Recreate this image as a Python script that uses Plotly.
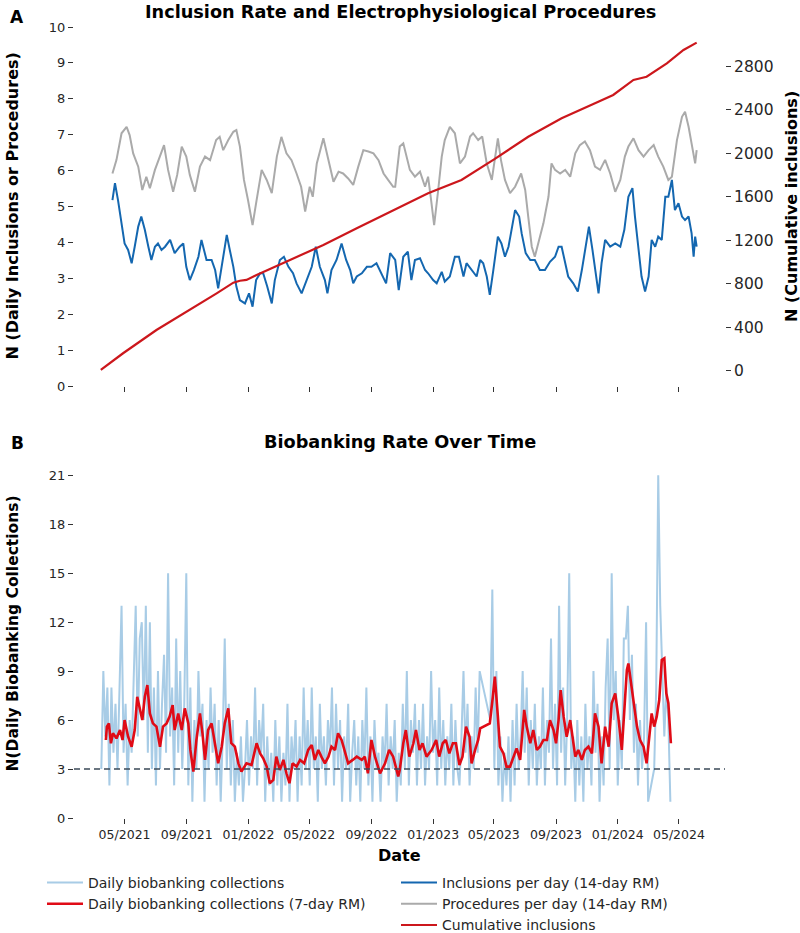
import pandas as pd
import plotly.graph_objects as go

START = pd.Timestamp("2021-03-15")

# ---------------- Panel A data ----------------
proc_day = [23,31,41,51,57,64,74,82,90,97,107,117,125,133,143,151,160,169,176,186,
            196,206,216,228,235,242,252,262,268,275,283,291,300,308,318,328,338,348,357,367,
            377,387,396,404,413,419,427,440,450,460,470,479,489,499,509,519,529,539,549,559,
            568,578,
            582,591,598,605,611,621,631,641,647,653,659,667,674,680,690,700,710,720,730,736,
            746,754,763,773,779,785,791,799,809,819,831,839,845,852,858,865,875,885,891,898,
            908,918,928,938,947,957,967,977,987,997,1007,1017,1027,1036,1043,1053,1063,1073,1083,1093,
            1102,1112,1122,1129,1139,1149,1155,1162,1168,1175,1178]
proc_val = [5.92,6.30,7.04,7.22,6.99,6.48,6.11,5.46,5.83,5.51,6.02,6.39,6.71,6.02,5.41,5.88,6.67,6.39,5.88,5.41,
            6.11,6.39,6.29,6.85,6.94,6.57,6.85,7.08,7.13,6.67,5.74,5.18,4.48,5.18,6.02,5.74,5.37,6.39,6.94,6.48,
            6.29,5.92,5.55,4.86,5.55,5.27,6.20,6.90,6.29,5.69,5.97,5.92,5.78,5.60,6.11,6.57,6.53,6.48,6.29,5.92,
            5.74,5.55,
            5.55,6.67,6.76,6.39,6.02,5.83,5.97,5.55,5.83,5.18,4.48,5.46,6.39,6.85,7.22,7.04,6.20,6.39,6.95,7.04,
            6.85,6.95,6.20,5.74,6.30,6.90,6.30,5.74,5.37,5.55,5.92,5.46,4.72,3.88,3.60,3.97,4.53,5.27,6.20,6.02,
            5.92,6.02,5.83,6.48,6.71,6.81,6.57,6.11,6.02,6.30,5.92,5.41,5.74,6.39,6.67,6.90,6.57,6.39,6.57,6.71,
            6.39,6.11,5.74,5.83,6.85,7.50,7.64,7.22,6.76,6.20,6.57]

incl_day = [23,28,34,41,47,54,61,67,74,80,87,94,100,107,113,120,127,137,146,156,
            163,169,176,184,193,199,209,219,226,232,239,249,255,262,268,275,285,293,300,307,
            315,321,329,338,344,354,362,371,380,387,397,407,417,425,433,443,448,456,466,476,
            485,493,499,506,516,526,535,545,555,564,572,
            582,589,598,607,614,621,631,641,647,657,664,674,680,690,700,708,717,723,733,743,
            750,756,763,769,776,785,792,799,806,814,819,827,832,840,849,858,868,878,888,898,
            905,911,918,924,934,943,951,959,965,972,977,984,990,997,1007,1017,1027,1035,1043,1051,
            1056,1063,1069,1076,1083,1089,1096,1102,1109,1116,1122,1129,1135,1142,1149,1155,1162,1168,1172,1175,
            1178]
incl_val = [5.18,5.65,5.18,4.53,3.97,3.79,3.42,3.88,4.44,4.72,4.35,3.88,3.51,3.88,3.97,3.79,3.88,4.07,3.70,3.88,
            3.97,3.32,2.95,3.23,3.60,4.07,3.51,3.51,3.23,2.72,3.32,4.21,3.79,3.32,2.77,2.39,2.30,2.58,2.21,2.95,
            3.14,3.14,2.77,2.30,2.95,3.51,3.60,3.32,3.14,2.86,2.58,2.95,3.32,3.88,3.32,2.95,2.58,3.23,3.51,3.97,
            3.51,3.23,2.86,3.05,3.14,3.32,3.32,3.42,3.14,2.86,3.70,
            3.51,2.67,3.60,3.74,2.95,3.51,3.56,3.23,3.14,2.95,2.86,3.18,2.91,3.05,3.60,3.60,3.05,3.42,3.23,3.05,
            3.51,3.42,3.05,2.54,3.23,4.16,3.97,3.60,3.88,4.53,4.90,4.72,4.25,3.70,3.51,3.51,3.23,3.23,3.46,3.60,
            3.88,3.88,3.42,3.05,2.86,2.63,3.23,3.97,4.44,3.79,3.23,2.58,3.42,4.07,3.88,3.97,3.88,4.35,5.27,5.51,
            4.72,3.79,3.05,2.63,3.05,4.07,3.88,4.16,4.07,5.27,5.27,5.74,4.90,5.09,4.72,4.62,4.72,4.25,3.60,4.16,
            3.88]

cum_day = [0,44,110,176,229,262,275,288,308,374,440,506,581,647,713,779,845,911,977,1013,1053,1079,1119,1152,1178]
cum_val = [10,163,377,561,714,812,830,837,883,1021,1159,1312,1481,1634,1756,1950,2154,2324,2462,2538,2676,2706,2829,2952,3019]

# ---------------- Panel B data ----------------
bio_day = list(range(1, 750, 4)) + list(range(770, 1084, 4)) + list(range(1094, 1128, 4))
bio_val = [3,9,5,8,2,8,4,7,3,8,13,4,7,2,6,4,9,13,5,11,12,6,13,4,12,3,8,2,9,3,
           7,10,4,15,5,8,2,11,4,9,3,7,15,2,8,1,6,3,9,5,7,1,6,3,8,4,7,2,6,1,
           5,11,3,7,2,6,1,4,2,5,1,3,6,2,5,3,8,2,6,4,7,1,5,2,4,1,6,2,5,1,
           4,2,7,1,5,3,6,1,5,2,8,3,6,2,8,3,5,1,7,3,5,2,6,4,8,2,7,3,6,1,
           5,3,7,1,4,6,2,5,1,6,3,8,2,5,1,6,3,4,1,5,3,7,2,5,3,6,1,4,2,7,
           3,9,2,6,4,7,2,6,3,7,2,5,3,9,4,6,2,8,3,6,2,5,3,7,2,6,3,2,5,9,
           4,7,2,5,3,8,4,9,
           6,14,3,9,2,5,1,4,2,5,1,6,2,7,3,5,9,4,8,2,6,3,7,2,5,3,8,2,6,4,
           11,3,7,2,13,4,8,2,6,15,3,5,1,6,2,5,1,7,3,5,2,9,4,7,1,5,2,8,11,3,
           15,6,9,2,6,3,11,11,13,6,10,4,7,2,6,3,5,12,1,
           3,8,21,13,9,5,8,6,1]

bio_rm_day = [10,12,16,20,24,31,38,43,47,54,61,67,72,77,82,87,92,97,103,110,
              117,123,130,136,142,146,153,160,166,173,177,183,189,196,201,206,212,219,225,232,
              239,245,252,258,265,272,278,288,298,308,315,321,328,334,341,347,354,361,367,373,
              379,387,394,402,410,417,423,430,436,443,450,456,463,469,476,483,489,498,506,516,
              522,528,535,542,552,562,570,578,588,
              591,598,603,610,618,623,630,636,644,654,663,669,676,682,689,696,702,709,715,722,
              729,733,740,746,750,769,775,779,785,789,796,802,809,816,822,829,837,842,849,855,
              862,868,875,882,888,895,900,905,909,915,921,928,933,938,944,951,957,964,971,977,
              984,990,997,1004,1010,1017,1023,1030,1035,1040,1043,1048,1053,1060,1066,1073,1079,1083,1089,1094,
              1099,1104,1109,1114,1118,1122,1127]
bio_rm_val = [4.78,5.60,5.80,4.58,5.19,4.88,5.39,4.78,6.00,4.98,4.37,5.39,7.43,6.72,6.00,7.43,8.15,6.41,5.80,5.60,
              4.37,5.60,5.80,6.21,6.92,5.39,6.41,5.39,6.72,5.80,4.17,2.84,4.78,6.41,5.19,3.56,5.39,5.80,4.58,3.35,
              4.37,5.80,6.72,4.58,4.37,3.35,2.84,3.35,3.25,4.58,3.96,3.66,3.15,2.13,2.33,3.76,2.94,3.56,2.74,2.13,
              3.35,3.15,3.56,3.35,4.17,4.47,3.56,4.17,3.76,3.35,3.76,4.37,4.17,5.19,4.78,3.96,3.35,3.56,3.76,3.56,
              3.76,2.74,4.78,3.76,2.74,3.35,4.17,3.76,2.54,
              2.94,4.58,5.39,3.76,4.58,5.39,4.17,4.58,3.76,4.17,4.78,3.76,4.58,4.78,3.96,4.58,4.58,3.25,3.76,5.60,
              4.98,3.35,4.17,4.78,5.49,5.80,7.43,8.66,6.21,4.37,3.96,3.15,3.15,3.76,4.27,3.56,6.62,5.60,4.58,5.39,
              4.17,4.37,4.78,4.78,6.00,5.39,4.58,6.00,7.84,6.21,4.98,6.00,4.78,3.76,4.17,3.56,4.17,4.37,3.96,6.41,
              5.60,3.35,5.60,4.37,7.03,7.64,6.21,4.17,6.62,9.07,9.47,8.25,7.03,5.60,4.78,4.37,3.35,4.58,6.41,5.60,
              6.21,7.23,9.68,9.78,7.64,7.03,4.58]

threshold = 3
tick_dates = ["2021-05-01","2021-09-01","2022-01-01","2022-05-01","2022-09-01",
              "2023-01-01","2023-05-01","2023-09-01","2024-01-01","2024-05-01"]
tick_text = ["05/2021","09/2021","01/2022","05/2022","09/2022",
             "01/2023","05/2023","09/2023","01/2024","05/2024"]
left_ticks_a = list(range(0, 11))
right_ticks_a = [0, 400, 800, 1200, 1600, 2000, 2400, 2800]
ticks_b = [0, 3, 6, 9, 12, 15, 18, 21]


def to_dates(days):
    return START + pd.to_timedelta(days, unit="D")


n = min(len(bio_day), len(bio_val))

FONT = "DejaVu Sans"
TXT = "#262626"

fig = go.Figure()

# Panel B traces (legend 1)
fig.add_trace(go.Scatter(x=to_dates(bio_day[:n]), y=bio_val[:n], mode="lines",
                         line=dict(color="#a8cce6", width=2), name="Daily biobanking collections",
                         xaxis="x2", yaxis="y3", legend="legend", legendrank=1))
fig.add_trace(go.Scatter(x=to_dates(bio_rm_day), y=bio_rm_val, mode="lines",
                         line=dict(color="#e00b16", width=2.6), name="Daily biobanking collections (7-day RM)",
                         xaxis="x2", yaxis="y3", legend="legend", legendrank=2))

# Panel A traces (legend 2)
fig.add_trace(go.Scatter(x=to_dates(proc_day), y=proc_val, mode="lines",
                         line=dict(color="#aaaaaa", width=2), name="Procedures per day (14-day RM)",
                         xaxis="x", yaxis="y", legend="legend2", legendrank=2))
fig.add_trace(go.Scatter(x=to_dates(incl_day), y=incl_val, mode="lines",
                         line=dict(color="#1467b0", width=2), name="Inclusions per day (14-day RM)",
                         xaxis="x", yaxis="y", legend="legend2", legendrank=1))
fig.add_trace(go.Scatter(x=to_dates(cum_day), y=cum_val, mode="lines",
                         line=dict(color="#cc171c", width=2.2), name="Cumulative inclusions",
                         xaxis="x", yaxis="y2", legend="legend2", legendrank=3))

xrange = ["2021-01-21", "2024-07-31"]
xdom = [74 / 800, 725 / 800]
tickcommon = dict(ticks="outside", ticklen=5, tickwidth=1, tickcolor="#333333",
                  showgrid=False, zeroline=False, showline=False, automargin=False)

fig.update_layout(
    width=800, height=933,
    margin=dict(l=0, r=0, t=0, b=0, autoexpand=False),
    paper_bgcolor="white", plot_bgcolor="white",
    font=dict(family=FONT, color=TXT),
    xaxis=dict(domain=xdom, anchor="y", range=xrange, tickvals=tick_dates,
               showticklabels=False, **tickcommon),
    yaxis=dict(domain=[1 - 386 / 933, 1 - 27 / 933], range=[0, 10], tickvals=left_ticks_a,
               tickfont=dict(size=13, color=TXT), **tickcommon),
    yaxis2=dict(overlaying="y", side="right", anchor="x", range=[-138, 3163], tickvals=right_ticks_a,
                tickfont=dict(size=15.5, color=TXT), **tickcommon),
    xaxis2=dict(domain=xdom, anchor="y3", range=xrange, tickvals=tick_dates, ticktext=tick_text,
                tickfont=dict(size=12.5, color=TXT), **tickcommon),
    yaxis3=dict(domain=[1 - 818 / 933, 1 - 459 / 933], range=[0, 22], tickvals=ticks_b,
                tickfont=dict(size=13, color=TXT), **tickcommon),
    legend=dict(x=42 / 800, y=1 - 867 / 933, xanchor="left", yanchor="top",
                font=dict(size=14, family=FONT, color=TXT), bgcolor="rgba(0,0,0,0)",
                itemwidth=36, tracegroupgap=0),
    legend2=dict(x=396 / 800, y=1 - 867 / 933, xanchor="left", yanchor="top",
                 font=dict(size=14, family=FONT, color=TXT), bgcolor="rgba(0,0,0,0)",
                 itemwidth=36, tracegroupgap=0),
    showlegend=True,
)

fig.add_shape(type="line", xref="x2 domain", x0=0, x1=1, yref="y3", y0=threshold, y1=threshold,
              line=dict(color="#3b4a58", width=1.5, dash="6px,4px"), layer="above")

ann = [
    dict(text="<b>Inclusion Rate and Electrophysiological Procedures</b>", x=0.5, y=1 - 12 / 933, size=17.7),
    dict(text="<b>Biobanking Rate Over Time</b>", x=0.5, y=1 - 442 / 933, size=17.7),
    dict(text="<b>A</b>", x=17 / 800, y=1 - 17 / 933, size=17),
    dict(text="<b>B</b>", x=17 / 800, y=1 - 443 / 933, size=17),
    dict(text="<b>Date</b>", x=399 / 800, y=1 - 855 / 933, size=16),
]
for a in ann:
    fig.add_annotation(text=a["text"], x=a["x"], y=a["y"], xref="paper", yref="paper",
                       showarrow=False, xanchor="center", yanchor="middle",
                       font=dict(size=a["size"], family=FONT, color="black"))

rot = [
    dict(text="<b>N (Daily Inclusions or Procedures)</b>", x=12.5 / 800, y=1 - 206 / 933, size=16),
    dict(text="<b>N (Cumulative inclusions)</b>", x=791 / 800, y=1 - 207 / 933, size=16),
    dict(text="<b>N(Daily Biobanking Collections)</b>", x=12.5 / 800, y=1 - 634 / 933, size=15.5),
]
for a in rot:
    fig.add_annotation(text=a["text"], x=a["x"], y=a["y"], xref="paper", yref="paper",
                       showarrow=False, xanchor="center", yanchor="middle", textangle=-90,
                       font=dict(size=a["size"], family=FONT, color="black"))

fig.write_html("out.html")
